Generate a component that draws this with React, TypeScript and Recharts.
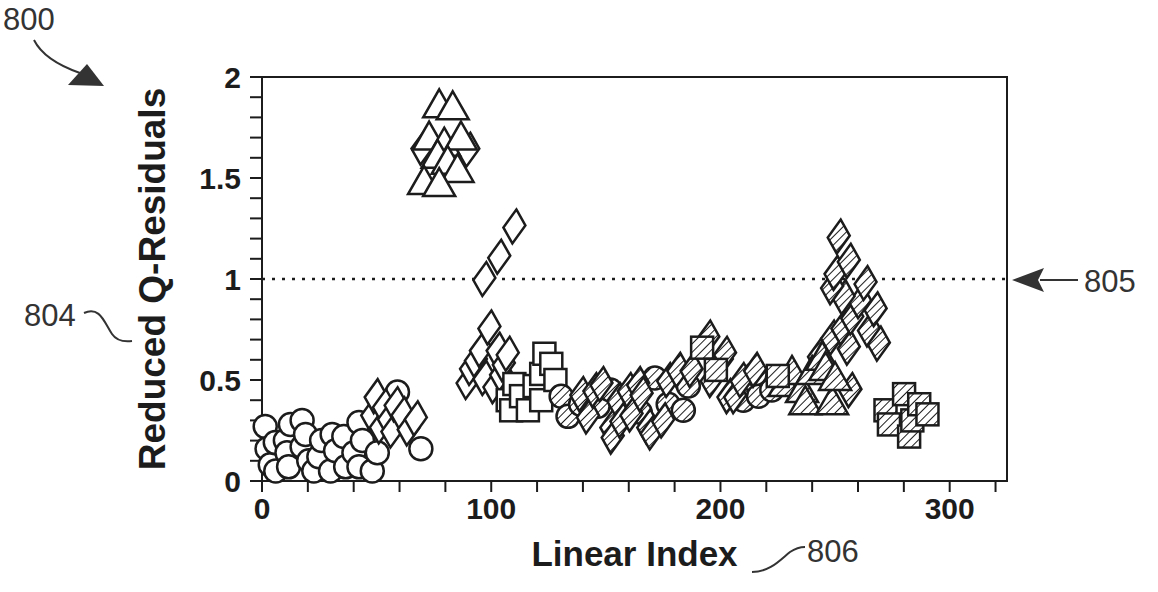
import React from 'react';
import { ScatterChart, Scatter, XAxis, YAxis, ReferenceLine, ReferenceArea } from 'recharts';

// [linear index, reduced Q-residual]
const openCircles = [
  [1.4, 0.27], [2.2, 0.16], [3.6, 0.08], [5.8, 0.19], [6, 0.05], [10.2, 0.2], [10.9, 0.14], [11.6, 0.07],
  [12.4, 0.28], [17.5, 0.3], [17.5, 0.17], [19, 0.23], [20.4, 0.1], [22.6, 0.05], [24.8, 0.12], [26, 0.2],
  [29.9, 0.05], [30.6, 0.23], [32.1, 0.15], [35.7, 0.22], [36.5, 0.07], [40.1, 0.14], [42.3, 0.29],
  [43.8, 0.2], [42.3, 0.07], [48.1, 0.05], [50.3, 0.14], [59.1, 0.44], [69.3, 0.16],
];
const openDiamonds = [
  [48.1, 0.33], [49.6, 0.42], [51.8, 0.27], [53.2, 0.37], [55.4, 0.31], [56.9, 0.25], [58.3, 0.38],
  [61.3, 0.33], [64, 0.26], [67.1, 0.31], [70, 1.65], [90, 1.64],
  [89.7, 0.49], [91.2, 0.56], [93.3, 0.6], [95.5, 0.65], [97, 0.51], [99.2, 0.76], [101.4, 0.47],
  [102.8, 0.65], [104.3, 0.53], [105.5, 0.58], [107.2, 0.63], [97, 1.0], [103.5, 1.11], [110.1, 1.26],
];
const openTriangles = [
  [77.3, 1.85], [83.2, 1.84], [72.9, 1.69], [79.5, 1.66], [86.8, 1.69], [76.6, 1.6], [81, 1.57],
  [85.3, 1.53], [70.7, 1.47], [77.3, 1.46],
];
const openSquares = [
  [107.2, 0.4], [108.7, 0.35], [110.1, 0.48], [113, 0.42], [116, 0.35], [118.9, 0.47], [121.8, 0.4],
  [121.8, 0.53], [123.2, 0.63], [126.2, 0.58], [128, 0.5],
];
const hatchedCircles = [
  [130.5, 0.42], [133.5, 0.32], [139, 0.38], [146.6, 0.37], [152, 0.45], [158.3, 0.38], [165, 0.34],
  [171.4, 0.51], [177.2, 0.38], [183.8, 0.35], [186, 0.47], [210, 0.4], [215.1, 0.53], [216.6, 0.42],
  [222.4, 0.45], [228, 0.5],
];
const hatchedDiamonds = [
  [139.3, 0.43], [142.2, 0.32], [145, 0.45], [148.1, 0.48], [152.4, 0.27], [153, 0.22], [155.4, 0.4],
  [156.8, 0.3], [160, 0.45], [161.2, 0.33], [164.1, 0.48], [165.6, 0.43], [168.5, 0.27], [170, 0.24],
  [175, 0.3], [177.2, 0.5], [181.6, 0.55], [187.4, 0.55], [194.7, 0.71], [196.2, 0.5], [200.6, 0.6],
  [202, 0.63], [203.5, 0.42], [206.4, 0.42], [209.3, 0.5], [215.1, 0.55],
  [243, 0.62], [248.7, 0.71], [256, 0.66], [253.2, 0.76], [264.8, 0.75], [269.1, 0.68], [257.5, 0.81],
  [267.7, 0.85], [260.9, 0.89], [253.7, 0.91], [248.7, 0.96], [263.3, 0.98], [250.2, 1.03], [256, 1.09],
  [251.6, 1.21], [256.7, 0.45],
];
const hatchedTriangles = [
  [228, 0.47], [231.2, 0.53], [235.6, 0.44], [237, 0.38], [240, 0.53], [244.4, 0.6], [245.8, 0.55],
  [248.7, 0.38], [250, 0.5],
];
const hatchedSquares = [
  [192, 0.66], [198, 0.55], [225, 0.52],
  [272, 0.35], [273.5, 0.28], [280.1, 0.43], [282.3, 0.22], [283.7, 0.3], [286.7, 0.38], [290.3, 0.33],
];

const xTicks = [0, 20, 40, 60, 80, 100, 120, 140, 160, 180, 200, 220, 240, 260, 280, 300, 320];
const yTicks = [0, 0.1, 0.2, 0.3, 0.4, 0.5, 0.6, 0.7, 0.8, 0.9, 1, 1.1, 1.2, 1.3, 1.4, 1.5, 1.6, 1.7, 1.8, 1.9, 2];

const toPoints = (arr: number[][]) => arr.map(([x, y]) => ({ x, y }));

const INK = '#1c1c1c';
const FONT = '"Liberation Sans", Arial, sans-serif';
const SW = 2.5;

const circle = (fill: string) => (p: any) => (
  <circle cx={p.cx} cy={p.cy} r={11.5} fill={fill} stroke={INK} strokeWidth={SW} />
);
const diamond = (fill: string) => (p: any) => (
  <polygon
    points={`${p.cx + 2},${p.cy - 17} ${p.cx + 11},${p.cy - 1} ${p.cx - 2},${p.cy + 17} ${p.cx - 11},${p.cy + 1}`}
    fill={fill} stroke={INK} strokeWidth={SW}
  />
);
const triangle = (fill: string) => (p: any) => (
  <polygon
    points={`${p.cx},${p.cy - 18} ${p.cx + 16},${p.cy + 10} ${p.cx - 16},${p.cy + 10}`}
    fill={fill} stroke={INK} strokeWidth={SW}
  />
);
const square = (fill: string) => (p: any) => (
  <rect x={p.cx - 11} y={p.cy - 11} width={22} height={22} fill={fill} stroke={INK} strokeWidth={SW} />
);

const tickStyle = { fontSize: 30, fontWeight: 700, fill: INK, fontFamily: FONT };

export default function App() {
  return (
    <div style={{ position: 'absolute', left: 0, top: 0, width: 1158, height: 592, background: '#fff' }}>
      <ScatterChart width={1158} height={592} margin={{ top: 77, right: 151, bottom: 51, left: 202 }}>
        <defs>
          <pattern id="hatch" width="6" height="6" patternUnits="userSpaceOnUse" patternTransform="rotate(45)">
            <rect width="6" height="6" fill="#fff" />
            <line x1="0" y1="0" x2="0" y2="6" stroke={INK} strokeWidth="2" />
          </pattern>
        </defs>
        <XAxis
          type="number" dataKey="x" domain={[0, 325]} ticks={xTicks} interval={0} height={60}
          tickSize={11} tickMargin={6} stroke={INK} strokeWidth={2}
          tickFormatter={(v: number) => (v % 100 === 0 ? String(v) : '')}
          tick={tickStyle}
          label={{ value: 'Linear Index', position: 'bottom', offset: 0, style: { fontSize: 35, fontWeight: 700, fill: INK, fontFamily: FONT } }}
        />
        <YAxis
          type="number" dataKey="y" domain={[0, 2]} ticks={yTicks} interval={0} width={60}
          tickSize={12} tickMargin={9} stroke={INK} strokeWidth={2}
          tickFormatter={(v: number) => (Math.abs(v * 2 - Math.round(v * 2)) < 1e-6 ? String(v) : '')}
          tick={tickStyle}
          label={{ value: 'Reduced Q-Residuals', angle: -90, position: 'left', offset: 50, style: { textAnchor: 'middle', fontSize: 37, fontWeight: 700, fill: INK, fontFamily: FONT } }}
        />
        <ReferenceArea x1={0} x2={325} y1={0} y2={2} fill="none" stroke={INK} strokeWidth={2} />
        <ReferenceLine y={1} stroke={INK} strokeWidth={2.5} strokeDasharray="3 7" />
        <Scatter data={toPoints(openCircles)} shape={circle('#fff')} isAnimationActive={false} />
        <Scatter data={toPoints(openDiamonds)} shape={diamond('#fff')} isAnimationActive={false} />
        <Scatter data={toPoints(openTriangles)} shape={triangle('#fff')} isAnimationActive={false} />
        <Scatter data={toPoints(openSquares)} shape={square('#fff')} isAnimationActive={false} />
        <Scatter data={toPoints(hatchedCircles)} shape={circle('url(#hatch)')} isAnimationActive={false} />
        <Scatter data={toPoints(hatchedDiamonds)} shape={diamond('url(#hatch)')} isAnimationActive={false} />
        <Scatter data={toPoints(hatchedTriangles)} shape={triangle('url(#hatch)')} isAnimationActive={false} />
        <Scatter data={toPoints(hatchedSquares)} shape={square('url(#hatch)')} isAnimationActive={false} />
      </ScatterChart>

      {/* reference numerals of the patent figure */}
      <svg width={1158} height={592} style={{ position: 'absolute', left: 0, top: 0, pointerEvents: 'none' }}>
        <g fill="#333" fontFamily={FONT} fontSize={31}>
          <text x={3} y={30}>800</text>
          <text x={24} y={326}>804</text>
          <text x={1084} y={292}>805</text>
          <text x={807} y={562}>806</text>
        </g>
        <g fill="none" stroke="#333" strokeWidth={2}>
          <path d="M 34 40 C 42 56, 60 66, 80 73" />
          <path d="M 84 313 C 100 306, 104 322, 112 334 C 116 340, 124 342, 132 341" />
          <path d="M 1040 280 L 1078 280" />
          <path d="M 752 572 C 770 572, 780 560, 790 552 C 796 548, 800 547, 805 547" />
        </g>
        <g fill="#333">
          <polygon points="68,85 104,86 87,64" />
          <polygon points="1012,280 1044,268 1038,280 1044,292" />
        </g>
      </svg>
    </div>
  );
}
